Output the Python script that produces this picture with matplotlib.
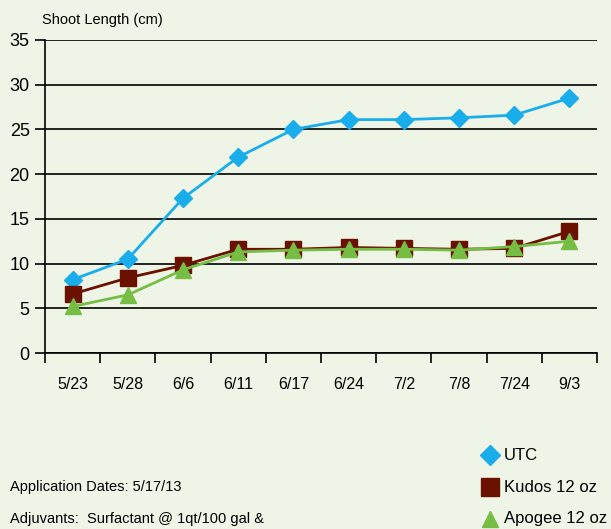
import matplotlib
matplotlib.use("Agg")
import matplotlib.pyplot as plt
from matplotlib.lines import Line2D

plt.rcParams['font.family'] = ['Liberation Sans', 'DejaVu Sans']

dates = ["5/23", "5/28", "6/6", "6/11", "6/17", "6/24", "7/2", "7/8", "7/24", "9/3"]
utc = [8.2, 10.5, 17.3, 21.9, 25.0, 26.1, 26.1, 26.3, 26.6, 28.5]
kudos = [6.6, 8.4, 9.8, 11.6, 11.6, 11.8, 11.7, 11.6, 11.7, 13.6]
apogee = [5.2, 6.5, 9.3, 11.3, 11.5, 11.6, 11.6, 11.5, 11.9, 12.5]
series_names = ["UTC", "Kudos 12 oz", "Apogee 12 oz"]
yticks = [0, 5, 10, 15, 20, 25, 30, 35]

bg = "#EEF5E7"
c_utc = "#19ADEB"
c_kudos = "#6B1100"
c_apogee = "#76BD44"

fig = plt.figure(figsize=(6.11, 5.29), dpi=100, facecolor=bg)
ax = fig.add_axes([45/611, 1-353/529, (597-45)/611, (353-40)/529])
ax.set_facecolor(bg)

x = list(range(len(dates)))
ax.plot(x, utc, color=c_utc, lw=2.0, marker='D', ms=9.5, mec=c_utc, mfc=c_utc, zorder=3)
ax.plot(x, kudos, color=c_kudos, lw=2.0, marker='s', ms=11, mec=c_kudos, mfc=c_kudos, zorder=4)
ax.plot(x, apogee, color=c_apogee, lw=2.0, marker='^', ms=11, mec=c_apogee, mfc=c_apogee, zorder=5)

ax.set_xlim(-0.5, len(dates) - 0.5)
ax.set_ylim(0, 35)
ax.set_yticks(yticks)
ax.set_yticklabels([str(v) for v in yticks], fontsize=13)
ax.set_xticks([i - 0.5 for i in range(len(dates) + 1)])
ax.set_xticklabels([])
ax.set_xticks(x, minor=True)
ax.set_xticklabels(dates, minor=True, fontsize=11.5)
ax.tick_params(axis='x', which='minor', length=0, pad=17)
ax.tick_params(axis='x', which='major', length=7, width=1.2, direction='out', color='black')
ax.tick_params(axis='y', length=7, width=1.2, direction='out', color='black', pad=4)

for v in yticks:
    ax.axhline(v, color='black', lw=1.2, zorder=1)
ax.spines['top'].set_visible(False)
ax.spines['right'].set_visible(False)
ax.spines['left'].set_linewidth(1.2)
ax.spines['bottom'].set_linewidth(1.2)

fig.text(42/611, 1-20/529, "Shoot Length (cm)", fontsize=10.5, va='center', ha='left')
fig.text(10/611, 1-487/529, "Application Dates: 5/17/13", fontsize=10.5, va='center', ha='left')
fig.text(10/611, 1-519/529, "Adjuvants:  Surfactant @ 1qt/100 gal &", fontsize=10.5, va='center', ha='left')

# legend
leg_items = [(c_utc, 'D', 10), (c_kudos, 's', 13), (c_apogee, '^', 12)]
leg_y = [455, 487, 519]
for (col, mk, ms), name, yy in zip(leg_items, series_names, leg_y):
    fig.add_artist(Line2D([490/611], [1-yy/529], marker=mk, ms=ms, color=col, mec=col,
                          mfc=col, lw=0, transform=fig.transFigure))
    fig.text(504/611, 1-yy/529, name, fontsize=12, va='center', ha='left')

fig.savefig("out.png", dpi=100, facecolor=bg)
